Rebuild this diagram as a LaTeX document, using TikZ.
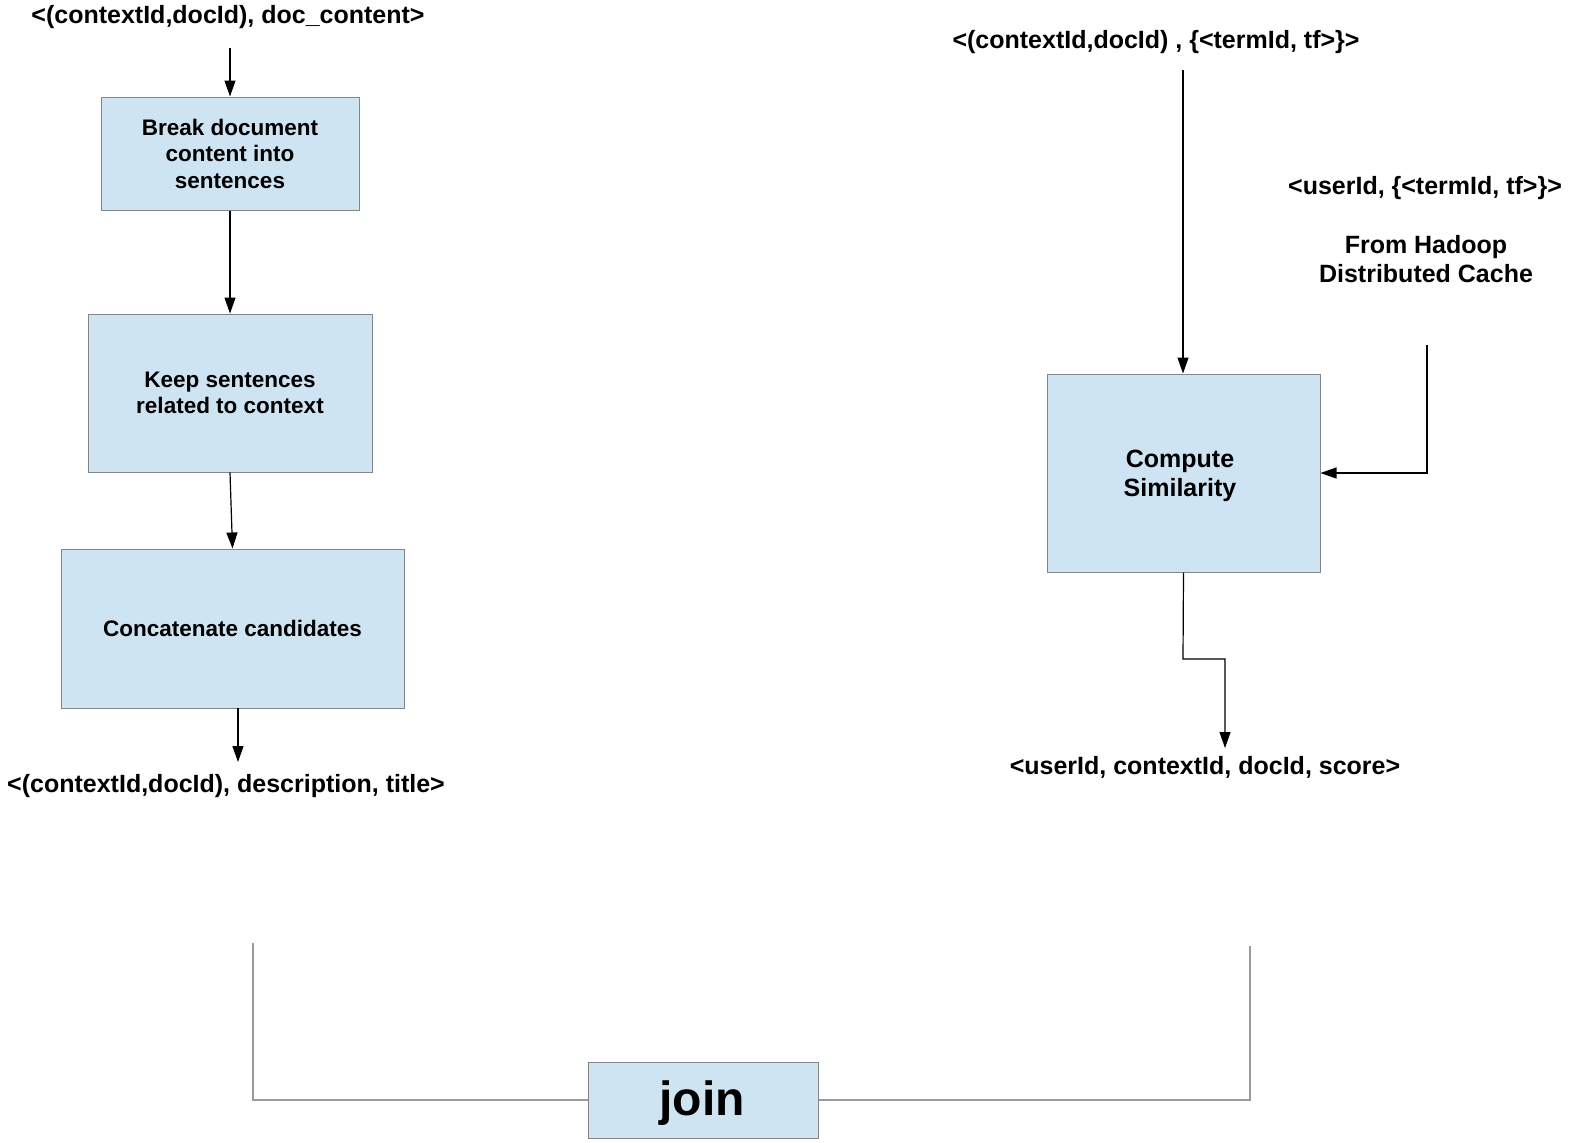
\documentclass[tikz,border=0pt]{standalone}
\usepackage{fontspec}
\setmainfont{Liberation Sans}
\usetikzlibrary{arrows.meta}
\definecolor{boxfill}{HTML}{CFE4F3}
\definecolor{boxline}{HTML}{858585}
\definecolor{joinline}{HTML}{9A9A9A}
\begin{document}
\begin{tikzpicture}[x=1pt,y=-1pt,
  box/.style={draw=boxline,fill=boxfill,line width=1pt,inner sep=0pt,align=center,
    font=\bfseries\fontsize{22.5}{26.5}\selectfont},
  bigbox/.style={box,font=\bfseries\fontsize{25}{29}\selectfont},
  lbl/.style={inner sep=0pt,align=center,font=\bfseries\fontsize{25}{29}\selectfont},
  arr/.style={line width=1.2pt,-{Triangle[length=16pt,width=11pt]}},
  jl/.style={draw=joinline,line width=1.2pt}]
\useasboundingbox (0,0) rectangle (1569,1143);
\fill[white] (0,0) rectangle (1569,1143);
% left column
\node[lbl] (inL) at (228,17) {<(contextId,docId), doc\_content>};
\coordinate (inLa) at (230,48);
\node[box,minimum width=258pt,minimum height=113pt] (b1) at (230,153.5) {Break document\\content into\\sentences};
\node[box,minimum width=284pt,minimum height=158pt] (b2) at (230,393) {Keep sentences\\related to context};
\node[box,minimum width=343pt,minimum height=159pt] (b3) at (232.5,628.5) {Concatenate candidates};
\node[lbl] (outL) at (226,786) {<(contextId,docId), description, title>};
\draw[arr] (inLa) -- (b1.north);
\draw[arr] (b1.south) -- (b2.north);
\draw[arr] (b2.south) -- (b3.north);
\draw[arr] (238,708) -- (238,762);
% right column
\node[lbl] (inR) at (1156,42) {<(contextId,docId) , \{<termId, tf>\}>};
\node[lbl] (user) at (1425,188) {<userId, \{<termId, tf>\}>};
\node[lbl] (hadoop) at (1426,259) {From Hadoop\\Distributed Cache};
\node[bigbox,minimum width=273pt,minimum height=198pt] (cs) at (1183.5,473) {};
\node[lbl] (cstext) at (1180,476) {Compute\\Similarity};
\node[lbl] (outR) at (1205,767) {<userId, contextId, docId, score>};
\coordinate (inRa) at (1183,70);
\coordinate (hc) at (1427,345);
\coordinate (oc) at (1225,748);
\draw[arr] (inRa) -- (inRa |- cs.north);
\draw[arr] (hc) |- (cs.east);
\draw[arr] (cs.south) -- (1183,659) -| (oc);
% join
\node[box,minimum width=230pt,minimum height=76pt] (join) at (703,1100) {};
\node[inner sep=0pt,font=\bfseries\fontsize{48}{50}\selectfont] (jointext) at (702,1103) {join};
\coordinate (jL) at (253,943);
\coordinate (jR) at (1250,946);
\draw[jl] (jL) |- (join.west);
\draw[jl] (join.east) -| (jR);
\end{tikzpicture}
\end{document}
